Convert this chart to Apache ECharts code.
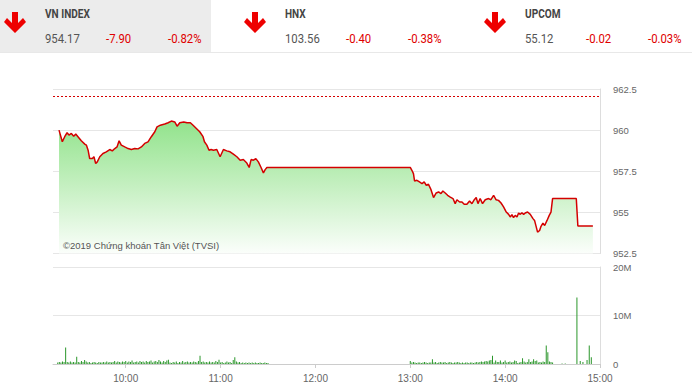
<!DOCTYPE html>
<html><head><meta charset="utf-8">
<script src="https://cdn.jsdelivr.net/npm/echarts@6/dist/echarts.min.js"></script>
<style>html,body{margin:0;padding:0;background:#fff}#c{width:692px;height:383px}</style>
</head><body><div id="c"></div>
<script>
// ---- header data ----
const indexNames = ["VN INDEX", "HNX", "UPCOM"];
const indexValues = ["954.17", "103.56", "55.12"];
const indexChanges = ["-7.90", "-0.40", "-0.02"];
const indexPct = ["-0.82%", "-0.38%", "-0.03%"];

// ---- price data (VN-Index intraday) ----
const refPrice = 962.07;
const times = ["9:17:48","9:19:54","9:21:24","9:22:54","9:24:06","9:25:36","9:27:06","9:28:24","9:29:48","9:31:54",
"9:34:06","9:35:06","9:36:12","9:37:12","9:38:54","9:39:54","9:41:00","9:42:00","9:43:36","9:45:36",
"9:47:42","9:49:54","9:51:30","9:53:06","9:54:30","9:55:48","9:57:12","9:59:24","10:01:30","10:03:36",
"10:05:42","10:07:48","10:09:54","10:12:00","10:14:06","10:16:12","10:18:24","10:19:48","10:21:54","10:24:42",
"10:26:48","10:28:54","10:31:00","10:32:30","10:34:12","10:36:42","10:38:48","10:40:54","10:42:36","10:44:42",
"10:46:48","10:48:54","10:49:48","10:51:18","10:52:42","10:54:00","10:55:30","10:57:36","10:59:42","11:01:48",
"11:03:54","11:06:00","11:08:06","11:10:18","11:12:24","11:14:24","11:16:36","11:18:06","11:19:18","11:20:48",
"11:22:18","11:23:54","11:25:36","11:27:06","11:28:12","11:29:18","11:30:00",
"13:00:00","13:01:00","13:02:00","13:02:42","13:04:12","13:05:48","13:07:24","13:08:48","13:10:06","13:11:30",
"13:13:06","13:14:42","13:16:24","13:17:54","13:19:24","13:20:36","13:22:06","13:23:36","13:25:18","13:27:00",
"13:28:24","13:29:30","13:31:12","13:32:42","13:34:06","13:35:48","13:37:30","13:39:00","13:40:30","13:41:42",
"13:42:48","13:44:12","13:45:42","13:47:24","13:49:30","13:51:00","13:52:42","13:54:12","13:55:48","13:57:24",
"13:59:00","14:00:42","14:02:12","14:03:12","14:04:18","14:05:18","14:06:24","14:07:30","14:08:30","14:09:36",
"14:10:36","14:11:42","14:12:42","14:14:12","14:15:54","14:17:36","14:18:36","14:19:42","14:20:30","14:21:48",
"14:22:42","14:23:54","14:25:00","14:26:30","14:27:54","14:29:00","14:30:00","14:45:00","14:46:00","14:55:30"];
const prices = [960.00,959.29,959.60,959.84,959.70,959.80,959.63,959.76,959.60,959.35,
959.15,959.09,958.78,958.27,958.27,958.38,957.97,958.07,958.38,958.58,
958.68,958.82,958.74,958.88,958.98,959.35,959.09,958.98,958.88,958.82,
958.88,958.86,958.98,959.19,959.29,959.60,959.90,960.20,960.30,960.37,
960.45,960.55,960.50,960.24,960.45,960.50,960.45,960.45,960.30,960.10,
959.90,959.60,959.29,959.09,958.78,958.82,958.78,958.82,958.38,958.82,
958.74,958.68,958.54,958.38,958.17,958.21,958.00,957.73,958.21,958.17,
958.27,958.07,957.73,957.40,957.60,957.73,957.73,
957.73,957.56,957.36,956.91,956.95,956.85,956.75,956.85,956.65,956.71,
956.38,955.90,956.18,956.24,956.14,956.30,956.18,956.04,955.93,955.84,
955.53,955.77,955.63,955.63,955.49,955.49,955.69,955.53,955.77,955.90,
955.53,955.84,955.53,955.77,955.84,955.77,956.04,955.77,955.73,955.57,
955.33,955.02,954.88,954.72,954.86,954.68,954.82,954.72,954.96,954.88,
954.98,954.88,954.96,955.02,954.88,954.62,954.51,954.10,953.80,953.90,
954.15,954.35,954.20,954.51,954.82,955.02,955.84,955.84,954.17,954.17];

// ---- volume data (millions of shares), one bar per minute ----
const volMorningStart = "9:17";
const volMorning = [0.3,0.4,0.3,0.5,0.4,3.4,0.4,0.3,0.5,0.3,0.4,0.3,1.5,0.4,0.3,0.6,0.4,0.8,
0.5,0.3,0.4,0.2,0.3,0.4,0.3,0.2,0.4,0.3,0.3,
0.4,0.3,0.5,0.3,0.4,0.3,0.4,0.6,0.3,0.5,0.4,0.3,0.5,0.4,
0.6,0.3,0.5,0.4,0.7,0.3,0.4,0.5,0.3,0.6,0.4,0.5,0.3,0.6,0.4,0.5,
0.7,0.3,0.5,0.6,0.4,0.8,0.5,0.3,0.6,0.4,0.7,0.9,0.3,0.2,0.4,
0.3,0.5,0.2,0.4,0.3,0.6,0.3,0.4,0.5,0.3,0.4,0.3,0.5,0.4,0.3,
0.6,1.7,0.4,0.5,0.3,
0.4,0.3,0.5,0.3,0.4,0.3,0.6,0.4,0.9,0.3,
0.4,0.2,0.3,0.5,0.3,0.4,0.2,0.8,1.4,0.5,
0.3,0.4,0.2,0.3,0.2,0.3,0.2,0.3,0.2,0.3,
0.2,0.3,0.2,0.2,0.3,0.2,0.2,0.3,0.2,0.2];
const volAfternoonStart = "13:00";
const volAfternoon = [0.6,0.3,0.4,0.3,0.2,0.3,0.3,0.2,0.3,0.4,0.3,
0.2,0.3,0.3,1.0,
0.3,0.4,0.2,0.3,0.4,0.3,0.3,0.4,0.2,0.3,0.4,0.3,0.2,0.3,0.3,0.4,
0.3,0.2,0.3,0.2,0.3,0.3,0.2,0.3,0.3,0.2,0.3,0.4,0.3,0.4,0.5,
0.4,0.5,0.6,0.5,0.7,0.8,1.7,0.3,0.7,0.4,
0.4,0.7,0.3,0.4,0.7,0.3,0.4,0.5,0.3,0.4,0.7,0.6,0.2,0.3,0.4,1.2,0.5,0.3,0.4,1.0,
0.4,0.5,1.0,0.6,0.7,0.3,0.4,0.3,0.5,0.4,3.8,2.4,0.5,0.4,0.3];
const volLateTimes = ["14:36","14:38","14:45:24","14:47:30","14:49:12","14:51:48","14:53:12","14:54:30"];
const volLate = [0.1,0.1,13.7,0.6,0.4,0.8,3.8,1.4];

// ---- axis ticks ----
const timeTicks = ["10:00","11:00","12:00","13:00","14:00","15:00"];
const axisStart = "9:14";
const axisEnd = "15:00";

function toMin(s){const p=s.split(':').map(Number);return p[0]*60+p[1]+(p[2]||0)/60;}
function fmt(m){const h=Math.floor(m/60),mm=Math.round(m-h*60);return h+':'+(mm<10?'0':'')+mm;}

const priceData = times.map((t,i)=>[toMin(t),prices[i]]);
const volData = [];
volMorning.forEach((v,i)=>volData.push([toMin(volMorningStart)+i, v*1e6]));
volAfternoon.forEach((v,i)=>volData.push([toMin(volAfternoonStart)+i, v*1e6]));
volLate.forEach((v,i)=>volData.push([toMin(volLateTimes[i]), v*1e6]));
const tickVals = timeTicks.map(toMin);

const labelFont = 'Liberation Sans, Arial, sans-serif';
const hdrFont = 'Roboto, "Liberation Sans", sans-serif';

// header graphics
const graphics = [{type:'rect',shape:{x:0,y:0,width:211,height:52},style:{fill:'#ececec'},silent:true,z:100},
  {type:'rect',shape:{x:0,y:52,width:692,height:1},style:{fill:'#e8e8e8'},silent:true,z:100}];
const blockX = [0, 240, 480];
indexNames.forEach((n,i)=>{
  const bx = blockX[i];
  const cx = bx + 15, ty = 12;
  graphics.push({type:'polygon',z:101,shape:{points:[[cx-3,ty],[cx+3,ty],[cx+3,ty+11],[cx+8,ty+6],[cx+11,ty+10],[cx,ty+21],[cx-11,ty+10],[cx-8,ty+6],[cx-3,ty+11]]},style:{fill:'#ee0000'},silent:true});
  graphics.push({type:'text',z:101,x:bx+45,y:14,scaleX:0.84,style:{text:n,font:'bold 12px '+hdrFont,fill:'#444',textVerticalAlign:'middle'},silent:true});
  graphics.push({type:'text',z:101,x:bx+45,y:38,scaleX:0.84,style:{text:indexValues[i],font:'13.5px '+hdrFont,fill:'#555',textVerticalAlign:'middle'},silent:true});
  graphics.push({type:'text',z:101,x:bx+106,y:38,scaleX:0.84,style:{text:indexChanges[i],font:'13.5px '+hdrFont,fill:'#e00000',textVerticalAlign:'middle'},silent:true});
  graphics.push({type:'text',z:101,x:bx+168,y:38,scaleX:0.84,style:{text:indexPct[i],font:'13.5px '+hdrFont,fill:'#e00000',textVerticalAlign:'middle'},silent:true});
});
graphics.push({type:'text',z:101,x:63,y:245,style:{text:'©2019 Chứng khoán Tân Việt (TVSI)',font:'9.5px '+labelFont,fill:'#555',textVerticalAlign:'middle'},silent:true});

const chart = echarts.init(document.getElementById('c'), null, {renderer:'svg'});
chart.setOption({
  animation:false,
  backgroundColor:'#fff',
  grid:[{left:53,right:92,top:89,height:164.5},{left:53,right:92,top:267,height:97}],
  xAxis:[
    {type:'value',gridIndex:0,min:toMin(axisStart),max:toMin(axisEnd),
     axisLine:{show:false},axisTick:{show:false},axisLabel:{show:false},splitLine:{show:false}},
    {type:'value',gridIndex:1,min:toMin(axisStart),max:toMin(axisEnd),
     axisLine:{show:true,lineStyle:{color:'#ccc'}},
     axisTick:{show:true,length:4,lineStyle:{color:'#ccc'},customValues:tickVals},
     axisLabel:{customValues:tickVals,formatter:v=>fmt(v),color:'#666',fontSize:10,fontFamily:labelFont,margin:9},
     splitLine:{show:false}}
  ],
  yAxis:[
    {type:'value',gridIndex:0,position:'right',min:952.5,max:962.5,interval:2.5,
     axisLine:{show:true,lineStyle:{color:'#ddd'}},axisTick:{show:false},
     axisLabel:{color:'#666',fontSize:9.5,fontFamily:labelFont,margin:13},
     splitLine:{show:true,lineStyle:{color:'#e6e6e6'}}},
    {type:'value',gridIndex:1,position:'right',min:0,max:20e6,interval:10e6,
     axisLine:{show:true,lineStyle:{color:'#ddd'}},axisTick:{show:false},
     axisLabel:{color:'#666',fontSize:9.5,fontFamily:labelFont,margin:13,formatter:v=>v===0?'0':(v/1e6)+'M'},
     splitLine:{show:true,lineStyle:{color:'#e6e6e6'}}}
  ],
  series:[
    {type:'line',xAxisIndex:0,yAxisIndex:0,data:priceData,showSymbol:false,symbol:'none',
     lineStyle:{color:'#d40000',width:1.5},
     areaStyle:{origin:'start',opacity:1,color:new echarts.graphic.LinearGradient(0,0,0,1,[
       {offset:0,color:'#92e38c'},{offset:0.5,color:'#c6f0c2'},{offset:1,color:'#fbfefb'}])},
     markLine:{silent:true,symbol:'none',label:{show:false},
       lineStyle:{color:'#d40000',type:[2,2],width:1},data:[{yAxis:refPrice}]}},
    {type:'bar',xAxisIndex:1,yAxisIndex:1,data:volData,barWidth:1,itemStyle:{color:'#2a962a'}}
  ],
  graphic:graphics
});
</script></body></html>
